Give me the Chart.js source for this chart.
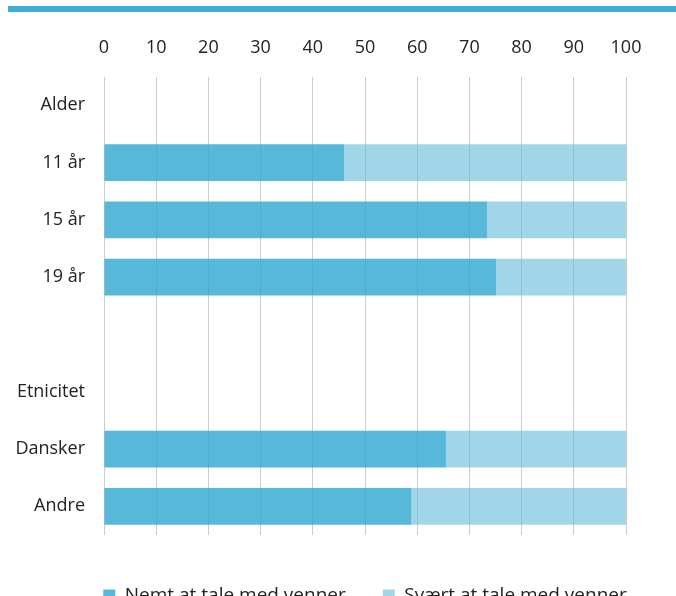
<!DOCTYPE html>
<html>
<head>
<meta charset="utf-8">
<script src="https://cdn.jsdelivr.net/npm/chart.js@4/dist/chart.umd.min.js"></script>
<style>
  html, body { margin: 0; padding: 0; background: #ffffff; overflow: hidden; }
  #wrap { position: relative; width: 676px; height: 604px; }
</style>
</head>
<body>
<div id="wrap"><canvas id="c"></canvas></div>
<script>
const categories = ['Alder', '11 år', '15 år', '19 år', '', 'Etnicitet', 'Dansker', 'Andre'];
const seriesNames = ['Nemt at tale med venner', 'Svært at tale med venner'];
const easyValues = [null, 46.0, 73.4, 75.1, null, null, 65.5, 58.9];
const hardValues = [null, 54.0, 26.6, 24.9, null, null, 34.5, 41.1];
const xTicks = [0, 10, 20, 30, 40, 50, 60, 70, 80, 90, 100];

const FONT = '"Open Sans", Lato, sans-serif';

const topStripe = {
  id: 'topStripe',
  beforeDraw(chart) {
    const ctx = chart.ctx;
    ctx.save();
    ctx.fillStyle = '#41acd6';
    ctx.fillRect(8, 6, 668, 6);
    ctx.restore();
  }
};

// nudge the legend box so it sits under the plot like the reference
const legendNudge = {
  id: 'legendNudge',
  afterLayout(chart) {
    const lg = chart.legend;
    if (!lg) return;
    lg.left += 52; lg.right += 52;
    lg.top += 14; lg.bottom += 14;
  }
};

new Chart(document.getElementById('c'), {
  type: 'bar',
  data: {
    labels: categories,
    datasets: [
      { label: seriesNames[0], data: easyValues, backgroundColor: 'rgba(50,168,210,0.82)', borderWidth: 0 },
      { label: seriesNames[1], data: hardValues, backgroundColor: 'rgba(97,187,217,0.6)', borderWidth: 0 }
    ]
  },
  options: {
    indexAxis: 'y',
    responsive: true,
    maintainAspectRatio: false,
    animation: false,
    categoryPercentage: 0.8,
    barPercentage: 0.8,
    layout: { padding: { top: 19, left: 0, right: 50, bottom: 3 } },
    scales: {
      x: {
        position: 'top',
        stacked: true,
        min: 0, max: 100,
        afterBuildTicks: (axis) => { axis.ticks = xTicks.map(v => ({ value: v })); },
        grid: { color: '#cccccc', lineWidth: 1, drawTicks: false },
        border: { display: false },
        ticks: { padding: 18, color: '#222222', font: { family: FONT, size: 18 } }
      },
      y: {
        stacked: true,
        afterFit: (axis) => { axis.width = 104; },
        grid: { display: false },
        border: { display: false },
        ticks: { padding: 11, color: '#222222', font: { family: FONT, size: 18 } }
      }
    },
    plugins: {
      legend: {
        position: 'bottom',
        labels: { boxWidth: 12, boxHeight: 12, padding: 37, color: '#222222', font: { family: FONT, size: 19 } }
      },
      tooltip: { enabled: false }
    }
  },
  plugins: [topStripe, legendNudge]
});
</script>
</body>
</html>
